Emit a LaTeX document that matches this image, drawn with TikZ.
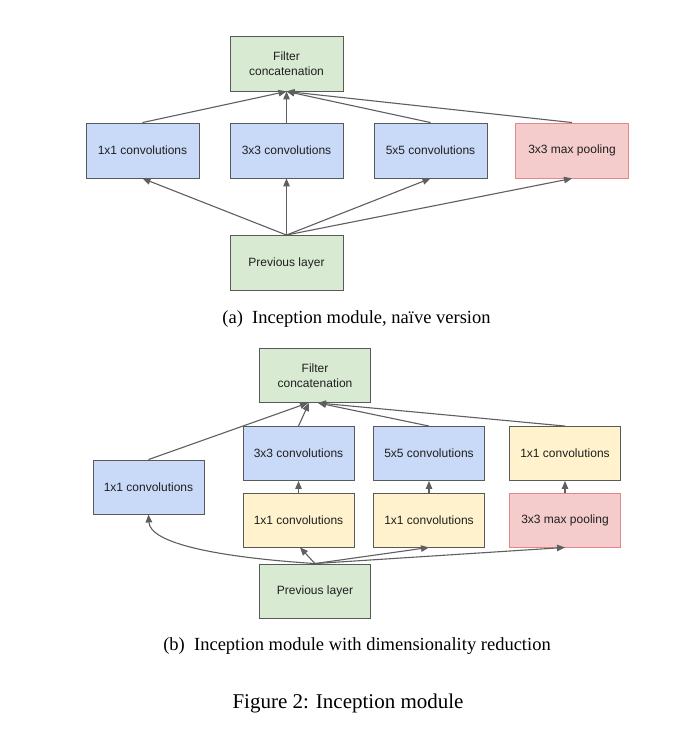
\documentclass[tikz,border=0pt]{standalone}
\usepackage{fontspec}
\setmainfont{Liberation Serif}
\newfontfamily\boxfont{Liberation Sans}
\usetikzlibrary{arrows.meta}
\definecolor{cblue}{HTML}{C9DAF8}
\definecolor{cgreen}{HTML}{D9EAD3}
\definecolor{cred}{HTML}{F4CCCC}
\definecolor{credline}{HTML}{E06666}
\definecolor{cyellow}{HTML}{FFF2CC}
\definecolor{cline}{HTML}{595959}
\definecolor{carrow}{HTML}{5F5F5F}
\tikzset{
  box/.style={draw=cline, line width=0.9pt, rectangle, inner sep=0pt,
    minimum width=113pt, minimum height=55pt, align=center,
    font=\boxfont\fontsize{12}{14.5}\selectfont, text=black!88},
  boxb/.style={box, minimum width=111pt, minimum height=54pt},
  bluebox/.style={fill=cblue},
  greenbox/.style={fill=cgreen},
  redbox/.style={fill=cred, draw=credline!80},
  yellowbox/.style={fill=cyellow},
  arr/.style={draw=carrow, line width=1.1pt, -{Triangle[length=8pt,width=6.5pt]}},
  subcap/.style={font=\fontsize{18.5}{22}\selectfont},
  figcap/.style={font=\fontsize{21}{25}\selectfont}
}
\begin{document}
\begin{tikzpicture}[x=1pt,y=-1pt]
\useasboundingbox[fill=white] (0,0) rectangle (692,735);

% ---- (a) naive version ----
\node[box,greenbox] (fa) at (286.5,63.5) {Filter\\concatenation};
\node[box,bluebox] (a1) at (142.5,150.5) {1x1 convolutions};
\node[box,bluebox] (a3) at (286.5,150.5) {3x3 convolutions};
\node[box,bluebox] (a5) at (430.5,150.5) {5x5 convolutions};
\node[box,redbox] (ap) at (572,150.5) {3x3 max pooling};
\node[box,greenbox] (pa) at (286.5,263) {Previous layer};

\foreach \n in {a1,a3,a5,ap}{
  \draw[arr] (pa.north) -- (\n.south);
  \draw[arr] (\n.north) -- (fa.south);
}

\node[subcap] (capa) at (356.5,319) {(a)\enspace Inception module, naïve version};

% ---- (b) with dimensionality reduction ----
\node[boxb,greenbox] (fb) at (315,375.5) {Filter\\concatenation};
\node[boxb,bluebox] (b1) at (148.5,487) {1x1 convolutions};
\node[boxb,bluebox] (b3) at (298.5,453.5) {3x3 convolutions};
\node[boxb,bluebox] (b5) at (429,453.5) {5x5 convolutions};
\node[boxb,yellowbox] (bq) at (565,453.5) {1x1 convolutions};
\node[boxb,yellowbox] (by3) at (298.5,520) {1x1 convolutions};
\node[boxb,yellowbox] (by5) at (429,520) {1x1 convolutions};
\node[boxb,redbox] (bp) at (565,520) {3x3 max pooling};
\node[boxb,greenbox] (pb) at (315,591) {Previous layer};

\draw[arr] (b1.north) -- ([xshift=-7pt]fb.south);
\draw[arr] (b3.north) -- ([xshift=-6pt]fb.south);
\draw[arr] (b5.north) -- ([xshift=3pt]fb.south);
\draw[arr] (bq.north) -- ([xshift=3pt]fb.south);

\draw[arr] (by3.north) -- (b3.south);
\draw[arr] (by5.north) -- (b5.south);
\draw[arr] (bp.north) -- (bq.south);

\draw[arr] (pb.north) .. controls (215,557) and (150,543) .. (b1.south);
\draw[arr] (pb.north) -- ([xshift=1.5pt]by3.south);
\draw[arr] (pb.north) -- (by5.south);
\draw[arr] (pb.north) -- (bp.south);

\node[subcap] (capb) at (357,646) {(b)\enspace Inception module with dimensionality reduction};

\node[figcap] (fig) at (348,703) {Figure 2: Inception module};
\end{tikzpicture}
\end{document}
